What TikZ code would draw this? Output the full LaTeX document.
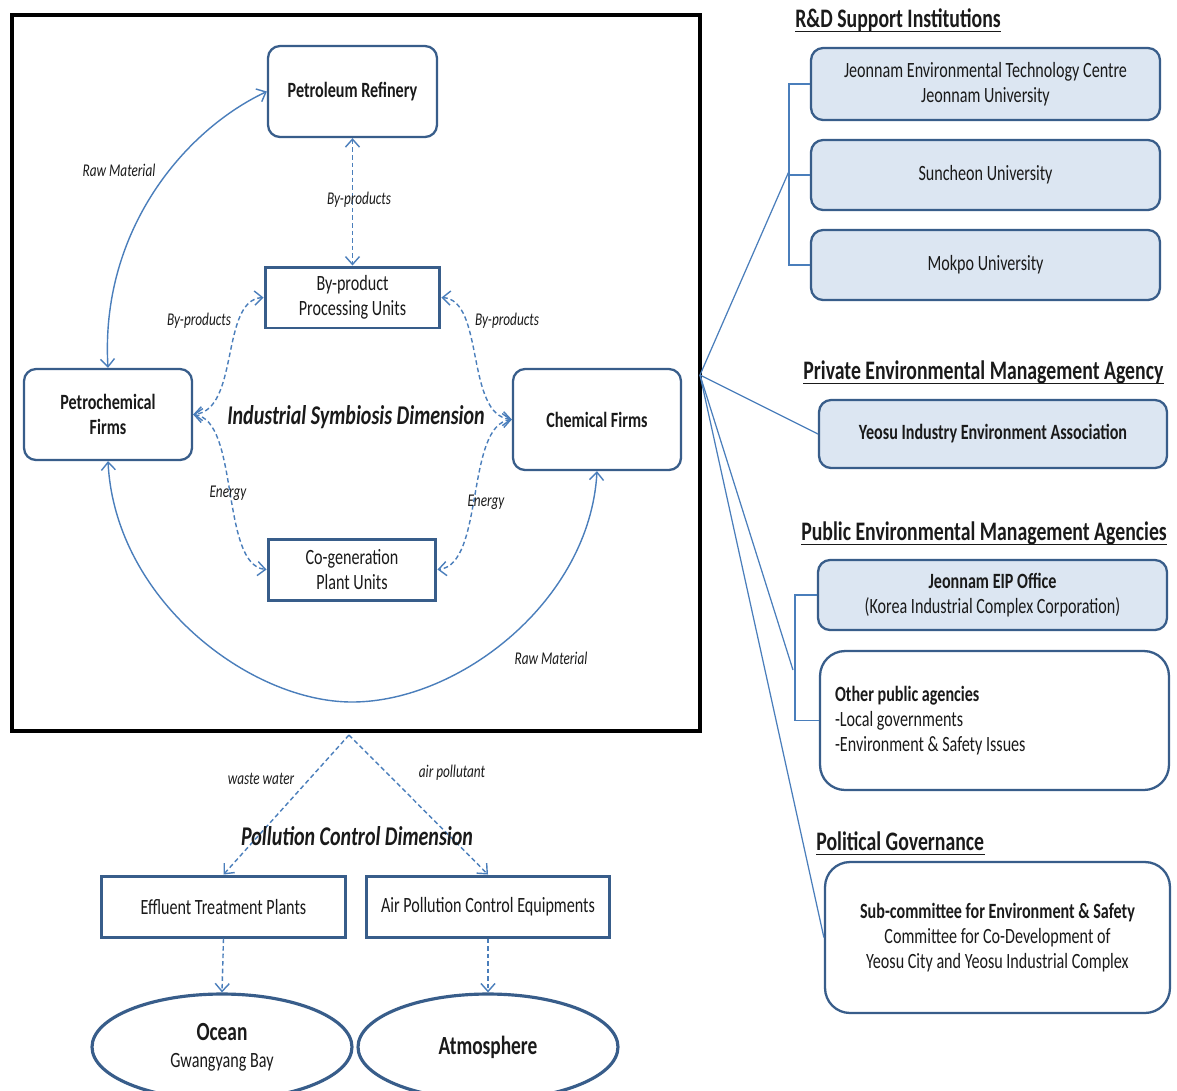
\documentclass[tikz,border=0pt]{standalone}
\usepackage{fontspec}
\setmainfont{Carlito}[FakeStretch=0.74]
\usetikzlibrary{arrows.meta,shapes.geometric}

\definecolor{linkblue}{HTML}{4A7EBB}
\definecolor{edgeblue}{HTML}{385D8A}
\definecolor{paleblue}{HTML}{DCE6F2}
\definecolor{ink}{HTML}{1A1A1A}

\newcommand\boxfont{\fontsize{12.4}{14.4}\selectfont}

\tikzset{
  rbox/.style={draw=edgeblue, line width=1.3pt, rounded corners=0.24cm, fill=white,
    align=center, text=ink, font=\bfseries\boxfont},
  sbox/.style={draw=edgeblue, line width=1.7pt, fill=white, align=center, text=ink,
    font=\boxfont},
  infobox/.style={draw=edgeblue, line width=1.3pt, rounded corners=0.24cm, fill=paleblue,
    align=center, text=ink, font=\boxfont, minimum width=6.98cm},
  openbox/.style={draw=edgeblue, line width=1.3pt, rounded corners=0.5cm, fill=white,
    text=ink, font=\boxfont},
  pool/.style={ellipse, draw=edgeblue, line width=1.8pt, fill=white, align=center,
    text=ink, font=\boxfont, minimum width=5.2cm, minimum height=2.12cm},
  flow/.style={draw=linkblue, line width=0.8pt},
  dflow/.style={flow, dash pattern=on 2.6pt off 1.7pt},
  lbl/.style={text=ink, inner sep=1pt, font=\itshape\fontsize{10.2}{12}\selectfont},
  dimlabel/.style={text=ink, inner sep=1pt, font=\bfseries\itshape\fontsize{15.4}{17}\selectfont},
  heading/.style={text=ink, inner sep=0pt, anchor=base west,
    font=\bfseries\fontsize{15.2}{17}\selectfont},
  underbar/.style={draw=ink, line width=0.9pt}
}

\begin{document}
\begin{tikzpicture}[x=0.02cm, y=-0.02cm,
  >={Straight Barb[length=4.5pt,width=8pt]}]

\fill[white] (0,0) rectangle (1177,1090);
\useasboundingbox (0,0) rectangle (1177,1090);

% ---------- industrial symbiosis frame ----------
\draw[black, line width=1.8pt] (12,15) rectangle (700,731);
\coordinate (hub) at (700,375);

\node[rbox, minimum width=3.38cm, minimum height=1.82cm] (PR) at (352.5,91.5) {Petroleum Refinery};
\node[sbox, minimum width=3.5cm, minimum height=1.22cm] (BP) at (352.5,297.5) {By-product\\Processing Units};
\node[rbox, minimum width=3.36cm, minimum height=1.82cm] (PF) at (108,414.5) {Petrochemical\\Firms};
\node[rbox, minimum width=3.36cm, minimum height=2.02cm] (CF) at (597,419.5) {Chemical Firms};
\node[sbox, minimum width=3.36cm, minimum height=1.22cm] (CG) at (352,569.5) {Co-generation\\Plant Units};

\node[dimlabel] (isd) at (356,417) {Industrial Symbiosis Dimension};

% raw material loops
\draw[flow, <->] (PF.north) .. controls (100,230) and (185,130) .. (PR.west);
\draw[flow, <->] (PF.south) .. controls (115,600) and (250,702) .. (352,702)
  .. controls (460,702) and (590,600) .. (CF.south);

% by-product and energy exchanges
\draw[dflow, <->] (PR.south) -- (BP.north);
\draw[dflow, <->] (BP.west) .. controls (220,300) and (240,410) .. (PF.east);
\draw[dflow, <->] (BP.east) .. controls (485,300) and (465,415) .. (CF.west);
\draw[dflow, <->] (PF.east) .. controls (240,420) and (220,565) .. (CG.west);
\draw[dflow, <->] (CF.west) .. controls (465,425) and (485,565) .. (CG.east);

\node[lbl] (l1) at (119,170) {Raw Material};
\node[lbl] (l2) at (359,200) {By-products};
\node[lbl] (l3) at (199,321) {By-products};
\node[lbl] (l4) at (507,321) {By-products};
\node[lbl] (l5) at (228,493) {Energy};
\node[lbl] (l6) at (486,502) {Energy};
\node[lbl] (l7) at (551,658) {Raw Material};

% ---------- pollution control ----------
\coordinate (apex) at (349,735);
\node[sbox, minimum width=4.9cm, minimum height=1.22cm] (ET) at (223.5,906.5) {Effluent Treatment Plants};
\node[sbox, minimum width=4.88cm, minimum height=1.22cm] (AP) at (488,906.5) {Air Pollution Control Equipments};
\node[pool] (OC) at (222,1047) {{\bfseries\fontsize{14.9}{16}\selectfont Ocean}\\[1pt]Gwangyang Bay};
\node[pool] (AT) at (488,1047) {\bfseries\fontsize{14.9}{16}\selectfont Atmosphere};

\draw[dflow, ->] (apex) -- (ET.north);
\draw[dflow, ->] (apex) -- (AP.north);
\draw[dflow, ->] (ET.south) -- (OC.north);
\draw[dflow, ->] (AP.south) -- (AT.north);

\node[lbl] (l8) at (261,779) {waste water};
\node[lbl] (l9) at (452,773) {air pollutant};
\node[dimlabel] (pcd) at (357,836) {Pollution Control Dimension};

% ---------- governance column ----------
\node[heading] (h1) at (795,27) {R\&D Support Institutions};
\node[heading] (h2) at (803,379) {Private Environmental Management Agency};
\node[heading] (h3) at (801,540) {Public Environmental Management Agencies};
\node[heading] (h4) at (816,850) {Political Governance};
\foreach \h in {h1,h2,h3,h4}
  \draw[underbar] ([yshift=-2.6pt]\h.base west) -- ([yshift=-2.6pt]\h.base east);

\node[infobox, minimum height=1.44cm] (RD1) at (985.5,84) {Jeonnam Environmental Technology Centre\\Jeonnam University};
\node[infobox, minimum height=1.4cm] (RD2) at (985.5,175) {Suncheon University};
\node[infobox, minimum height=1.4cm] (RD3) at (985.5,265) {Mokpo University};

\node[infobox, minimum width=6.96cm, minimum height=1.36cm, font=\bfseries\boxfont] (YE) at (993,434) {Yeosu Industry Environment Association};

\node[infobox, minimum height=1.4cm] (EIP) at (992.5,595) {\textbf{Jeonnam EIP Office}\\(Korea Industrial Complex Corporation)};
\node[openbox, minimum width=6.98cm, minimum height=2.78cm, text width=6.38cm, align=left, inner xsep=0.3cm] (OPA) at (994.5,720.5)
  {\spaceskip=0pt \xspaceskip=0pt \textbf{Other public agencies}\\-Local governments\\-Environment \& Safety Issues};

\node[openbox, minimum width=6.9cm, minimum height=3.02cm, align=center] (PG) at (997.5,937.5)
  {\textbf{Sub-committee for Environment \& Safety}\\Committee for Co-Development of\\Yeosu City and Yeosu Industrial Complex};

% brackets and links from the frame
\draw[flow, line width=0.7pt] (RD1.west) -- ++(-21,0) |- (RD3.west);
\draw[flow, line width=0.7pt] (RD2.west) -- ++(-21,0) coordinate (rdjoin);
\draw[flow, line width=0.7pt] (EIP.west) -- ++(-22,0) |- (OPA.west);
\coordinate (pubjoin) at (793,670);

\draw[flow, line width=0.7pt] (hub) -- ([yshift=2]rdjoin);
\draw[flow, line width=0.7pt] (hub) -- (YE.west);
\draw[flow, line width=0.7pt] (hub) -- (pubjoin);
\draw[flow, line width=0.7pt] (hub) -- (PG.west);

\end{tikzpicture}
\end{document}
